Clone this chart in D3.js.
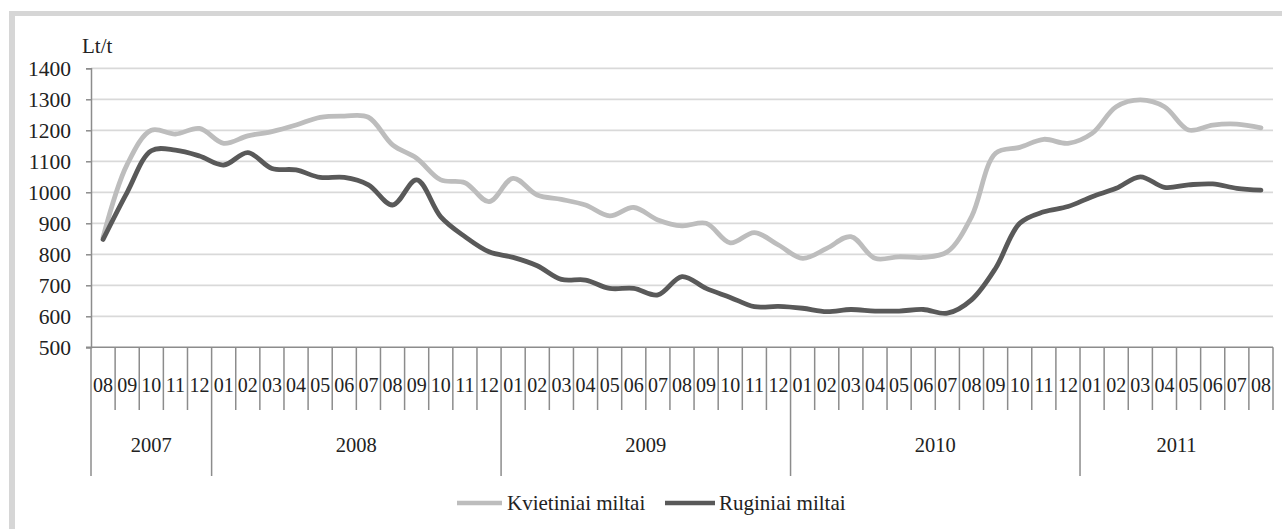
<!DOCTYPE html>
<html>
<head>
<meta charset="utf-8">
<script src="https://cdn.jsdelivr.net/npm/d3@7"></script>
<style>
  html, body { margin: 0; padding: 0; background: #fff; }
  svg { display: block; }
  text { font-family: "Liberation Serif", "Times New Roman", serif; fill: #222; }
</style>
</head>
<body>
<svg id="chart" width="1282" height="529"></svg>
<script>
// ---- data ----
const months = ["08","09","10","11","12",
  "01","02","03","04","05","06","07","08","09","10","11","12",
  "01","02","03","04","05","06","07","08","09","10","11","12",
  "01","02","03","04","05","06","07","08","09","10","11","12",
  "01","02","03","04","05","06","07","08"];
const years = ["2007","2008","2009","2010","2011"];
const yearMonthCounts = [5, 12, 12, 12, 8];
const kvietiniai = [855, 1090, 1200, 1188, 1206,
  1158, 1182, 1196, 1217, 1242, 1246, 1242, 1153, 1110, 1040, 1031, 970,
  1045, 991, 977, 959, 924, 951, 911, 892, 900, 837, 870, 830,
  787, 819, 857, 787, 792, 790, 808, 921, 1126, 1145, 1171, 1158,
  1190, 1276, 1298, 1276, 1201, 1217, 1220, 1208];
const ruginiai = [848, 1000, 1134, 1136, 1117,
  1088, 1128, 1077, 1072, 1048, 1048, 1024, 959, 1040, 921, 857, 808,
  790, 763, 719, 717, 690, 690, 669, 728, 690, 661, 631, 632,
  626, 615, 622, 617, 617, 622, 610, 653, 755, 900, 937, 954,
  986, 1013, 1050, 1016, 1024, 1027, 1013, 1007];
const yTicks = [500, 600, 700, 800, 900, 1000, 1100, 1200, 1300, 1400];
const seriesNames = ["Kvietiniai miltai", "Ruginiai miltai"];
const seriesColors = ["#bdbdbd", "#595959"];

(function () {
// ---- layout ----
const svg = d3.select("#chart");
const pLeft = 91, pRight = 1273, pTop = 68.3, pBottom = 347.3;

const x = d3.scaleBand().domain(d3.range(months.length)).range([pLeft, pRight]).padding(0);
const y = d3.scaleLinear().domain([500, 1400]).range([pBottom, pTop]);

// outer frame (top and left)
svg.append("rect").attr("x", 9).attr("y", 11).attr("width", 1282 - 9).attr("height", 5).attr("fill", "#d6d6d6");
svg.append("rect").attr("x", 9).attr("y", 11).attr("width", 6).attr("height", 529 - 11).attr("fill", "#d6d6d6");

// gridlines
svg.append("g").selectAll("line").data(yTicks.filter(d => d > 500)).join("line")
  .attr("x1", pLeft).attr("x2", pRight)
  .attr("y1", d => y(d)).attr("y2", d => y(d))
  .attr("stroke", "#d9d9d9").attr("stroke-width", 1.8);

// y axis
const yAxis = svg.append("g").attr("transform", `translate(${pLeft},0)`)
  .call(d3.axisLeft(y).tickValues(yTicks).tickSize(5).tickPadding(15).tickFormat(d3.format("d")));
yAxis.select(".domain").attr("stroke", "#8c8c8c").attr("stroke-width", 1.5);
yAxis.selectAll(".tick line").attr("stroke", "#8c8c8c").attr("stroke-width", 1.5);
yAxis.selectAll(".tick text").attr("font-size", 21.5).attr("font-family", "Liberation Serif").attr("fill", "#222");

// x axis line
svg.append("line").attr("x1", pLeft - 5).attr("x2", pRight).attr("y1", pBottom).attr("y2", pBottom)
  .attr("stroke", "#8c8c8c").attr("stroke-width", 1.5);

// month tick lines (band boundaries)
const bounds = d3.range(months.length + 1);
let cum = 0;
const yearBounds = [0];
yearMonthCounts.forEach(c => { cum += c; yearBounds.push(cum); });
svg.append("g").selectAll("line").data(bounds).join("line")
  .attr("x1", d => pLeft + d * x.step()).attr("x2", d => pLeft + d * x.step())
  .attr("y1", pBottom)
  .attr("y2", d => yearBounds.includes(d) && d !== months.length ? 476 : 410)
  .attr("stroke", "#8c8c8c").attr("stroke-width", 1.5);

// month labels
svg.append("g").selectAll("text").data(months).join("text")
  .attr("x", (d, i) => x(i) + x.bandwidth() / 2)
  .attr("y", 385)
  .attr("text-anchor", "middle").attr("dominant-baseline", "central")
  .attr("font-size", 20)
  .text(d => d);

// year labels
svg.append("g").selectAll("text").data(years).join("text")
  .attr("x", (d, i) => pLeft + (yearBounds[i] + yearBounds[i + 1]) / 2 * x.step())
  .attr("y", 445)
  .attr("text-anchor", "middle").attr("dominant-baseline", "central")
  .attr("font-size", 20.5)
  .text(d => d);

// unit label
svg.append("text").attr("x", 82).attr("y", 46).attr("dominant-baseline", "central")
  .attr("font-size", 21).text("Lt/t");

// lines
const line = d3.line()
  .x((d, i) => x(i) + x.bandwidth() / 2)
  .y(d => y(d))
  .curve(d3.curveCatmullRom.alpha(0.5));
[kvietiniai, ruginiai].forEach((s, k) => {
  svg.append("path").datum(s)
    .attr("fill", "none").attr("stroke", seriesColors[k])
    .attr("stroke-width", 4.8).attr("stroke-linejoin", "round").attr("stroke-linecap", "round")
    .attr("d", line);
});

// legend
const legendItems = [
  { x1: 457, x2: 502, tx: 507 },
  { x1: 665, x2: 715, tx: 719 }
];
legendItems.forEach((it, k) => {
  svg.append("line").attr("x1", it.x1).attr("x2", it.x2).attr("y1", 503).attr("y2", 503)
    .attr("stroke", seriesColors[k]).attr("stroke-width", 4.5);
  svg.append("text").attr("x", it.tx).attr("y", 503).attr("dominant-baseline", "central")
    .attr("font-size", 21).text(seriesNames[k]);
});
})();
</script>
</body>
</html>
